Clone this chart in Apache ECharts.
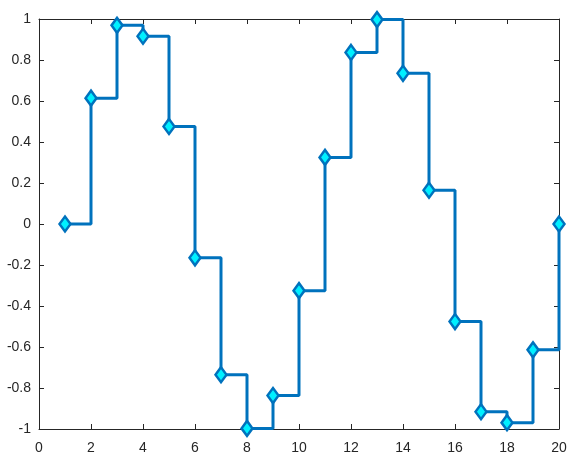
<!DOCTYPE html>
<html>
<head>
<meta charset="utf-8">
<script src="https://cdn.jsdelivr.net/npm/echarts@6/dist/echarts.min.js"></script>
<style>html,body{margin:0;padding:0;background:#fff;}#c{width:575px;height:466px;}</style>
</head>
<body>
<div id="c"></div>
<script>
var xValues = [1,2,3,4,5,6,7,8,9,10,11,12,13,14,15,16,17,18,19,20];
var yValues = [0, 0.614, 0.969, 0.916, 0.476, -0.165, -0.735, -0.997, -0.837, -0.325,
               0.325, 0.837, 0.997, 0.735, 0.165, -0.476, -0.916, -0.969, -0.614, 0];
var xTicks = [0,2,4,6,8,10,12,14,16,18,20];
var yTicks = [-1,-0.8,-0.6,-0.4,-0.2,0,0.2,0.4,0.6,0.8,1];

var chart = echarts.init(document.getElementById('c'), null, {renderer:'canvas'});
var axisColor = '#262626';
var font = {color: axisColor, fontSize: 14, fontFamily: 'Liberation Sans, Arial, sans-serif'};
function xAx(pos, show) {
  return {
    type: 'value', position: pos, min: 0, max: 20, interval: 2,
    axisLine: {show: true, onZero: false, lineStyle: {color: axisColor, width: 1}},
    axisTick: {show: true, inside: true, length: 5, lineStyle: {color: axisColor}},
    axisLabel: Object.assign({show: show, margin: 12, formatter: function(v){return String(v);}}, font),
    splitLine: {show: false}
  };
}
function yAx(pos, show) {
  return {
    type: 'value', position: pos, min: -1, max: 1, interval: 0.2,
    axisLine: {show: true, onZero: false, lineStyle: {color: axisColor, width: 1}},
    axisTick: {show: true, inside: true, length: 5, lineStyle: {color: axisColor}},
    axisLabel: Object.assign({show: show, margin: 8, formatter: function(v){
      var r = Math.round(v*10)/10; return r === 0 ? '0' : String(r);
    }}, font),
    splitLine: {show: false}
  };
}
chart.setOption({
  animation: false,
  backgroundColor: '#ffffff',
  grid: {left: 39, right: 16, top: 19, bottom: 37, containLabel: false},
  xAxis: [xAx('bottom', true), xAx('top', false)],
  yAxis: [yAx('left', true), yAx('right', false)],
  series: [{
    type: 'line',
    step: 'end',
    data: xValues.map(function(x, i){ return [x, yValues[i]]; }),
    lineStyle: {color: '#0072BD', width: 3},
    symbol: 'diamond',
    symbolSize: [11, 15],
    showAllSymbol: true,
    itemStyle: {color: '#00F0FF', borderColor: '#0072BD', borderWidth: 2.5}
  }]
});
</script>
</body>
</html>
